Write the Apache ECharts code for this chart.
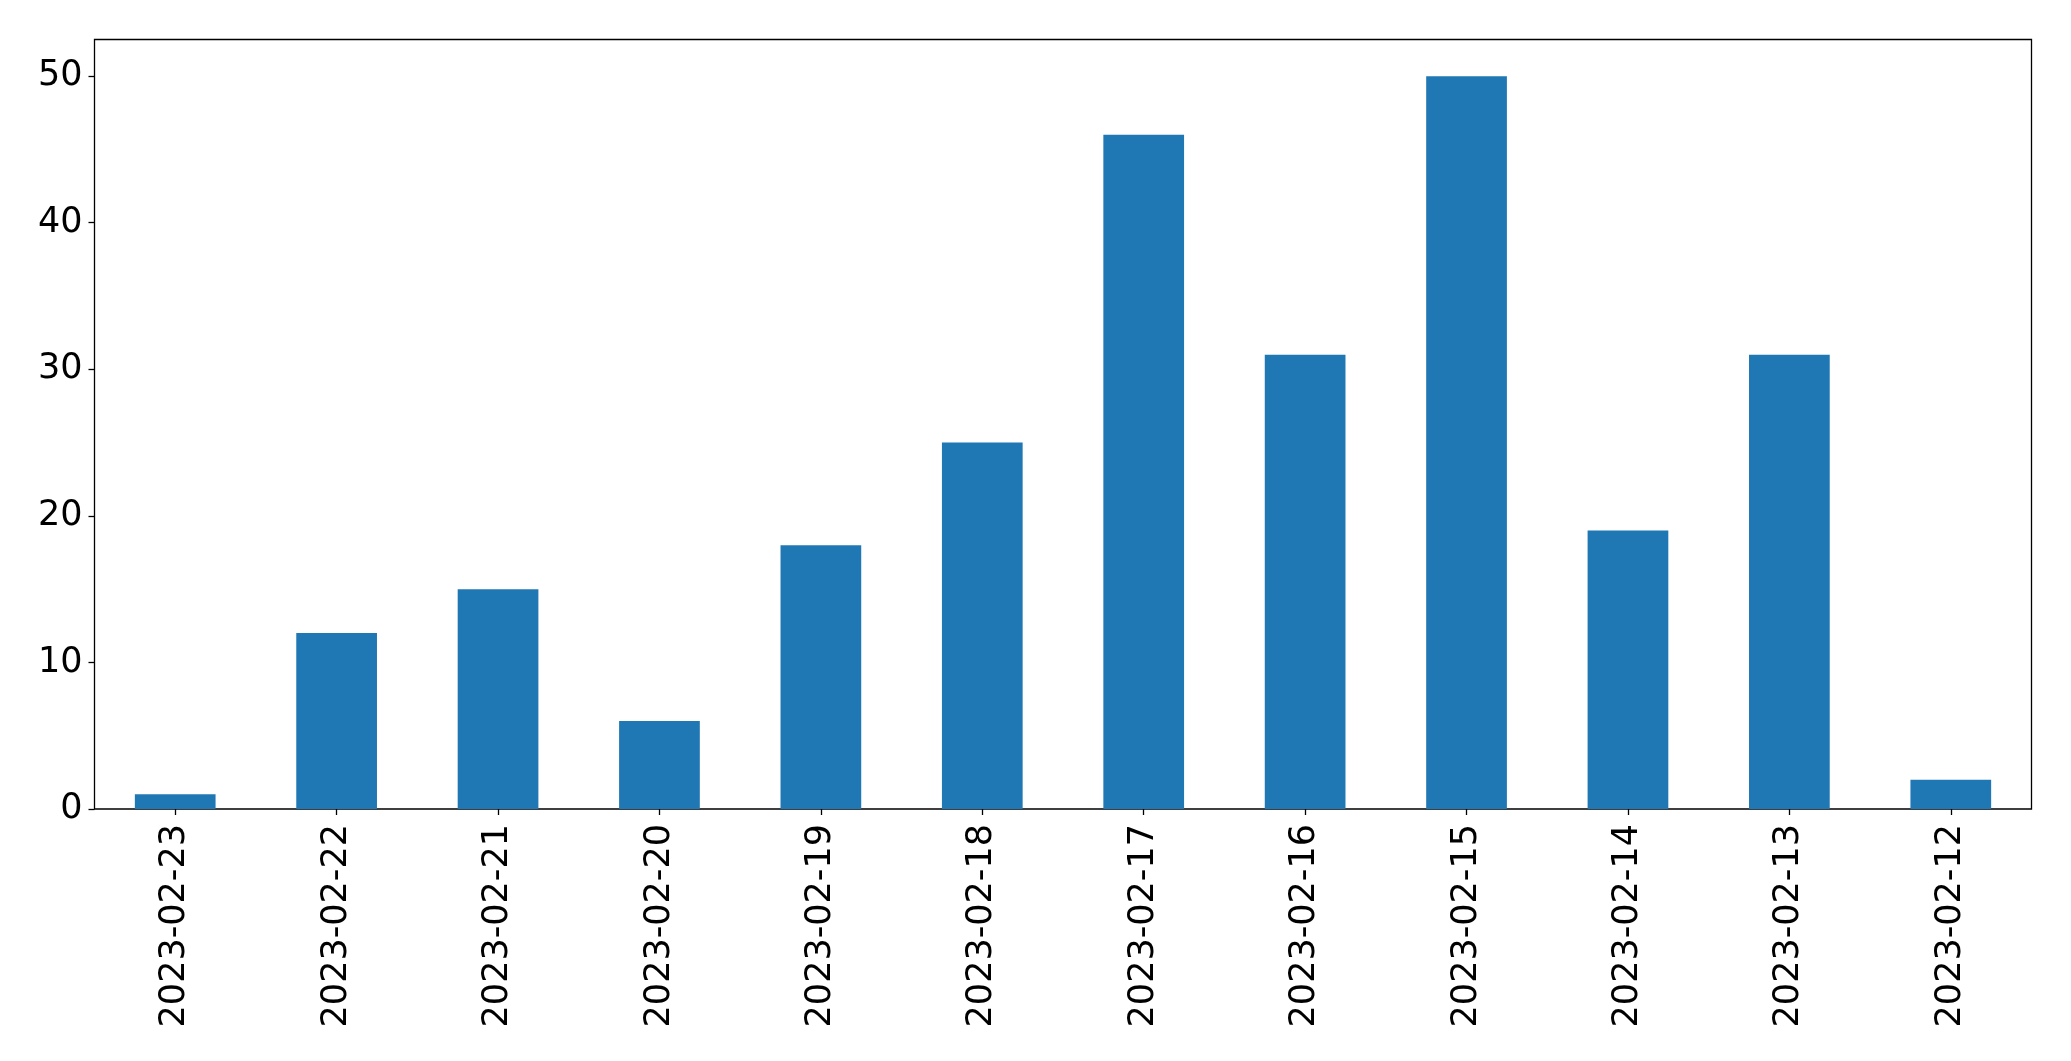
<!DOCTYPE html>
<html>
<head>
<meta charset="utf-8">
<script src="https://cdn.jsdelivr.net/npm/echarts@6/dist/echarts.min.js"></script>
<style>html,body{margin:0;padding:0;background:#fff;}#c{width:2071px;height:1061px;}</style>
</head>
<body>
<div id="c"></div>
<script>
const categories = ['2023-02-23','2023-02-22','2023-02-21','2023-02-20','2023-02-19','2023-02-18','2023-02-17','2023-02-16','2023-02-15','2023-02-14','2023-02-13','2023-02-12'];
const values = [1, 12, 15, 6, 18, 25, 46, 31, 50, 19, 31, 2];
const yTicks = [0, 10, 20, 30, 40, 50];

const chart = echarts.init(document.getElementById('c'), null, {renderer: 'canvas'});
const font = 'DejaVu Sans';
chart.setOption({
  animation: false,
  backgroundColor: '#ffffff',
  grid: {
    left: 94.5, top: 39.5, right: 39.5, bottom: 252,
    show: true, borderColor: '#000', borderWidth: 1.3, backgroundColor: 'transparent'
  },
  xAxis: {
    type: 'category',
    data: categories,
    boundaryGap: true,
    axisLine: {show: false},
    axisTick: {show: true, alignWithLabel: true, length: 6, lineStyle: {color: '#000', width: 1.3}},
    axisLabel: {rotate: 90, margin: 15, fontSize: 35, fontFamily: font, color: '#000', interval: 0},
    splitLine: {show: false}
  },
  yAxis: {
    type: 'value',
    min: 0, max: 52.5,
    axisLine: {show: false},
    axisTick: {show: true, length: 6, lineStyle: {color: '#000', width: 1.3}, customValues: yTicks},
    axisLabel: {fontSize: 35, fontFamily: font, color: '#000', margin: 12, customValues: yTicks},
    splitLine: {show: false}
  },
  series: [{
    type: 'bar',
    data: values,
    barWidth: '50%',
    itemStyle: {color: '#1f77b4'}
  }]
});
</script>
</body>
</html>
